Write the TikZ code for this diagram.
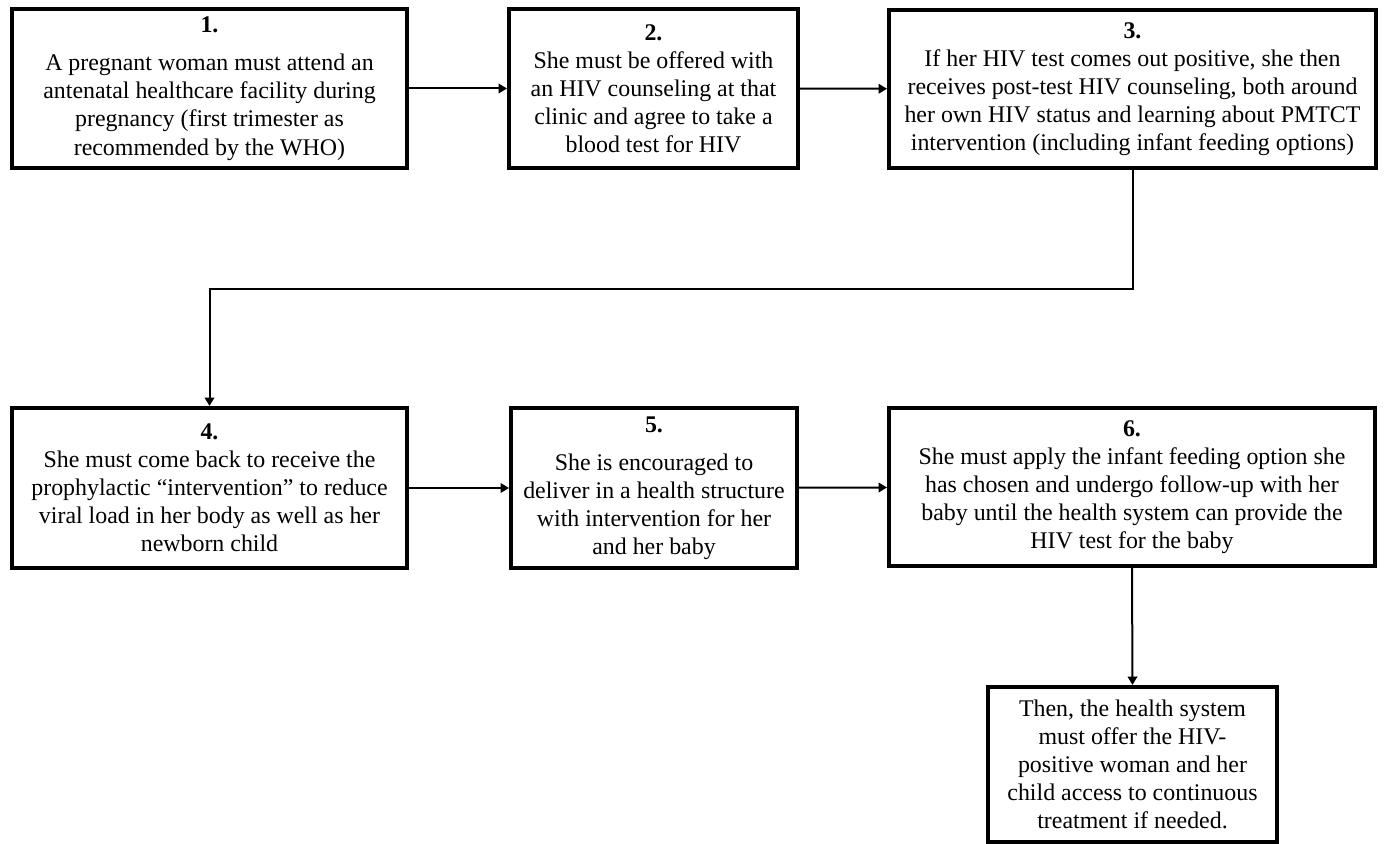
\documentclass[tikz,border=0pt]{standalone}
\usepackage{fontspec}
\setmainfont{Liberation Serif}
\usetikzlibrary{arrows.meta,positioning}

\tikzset{
  stepbox/.style={draw, line width=0.08cm, align=center, inner sep=2pt,
    font=\fontsize{13.6}{16}\selectfont},
  flow/.style={line width=0.04cm, -{Triangle[length=1.7mm,width=1.9mm]}}
}

\begin{document}
\begin{tikzpicture}[x=0.02cm, y=-0.02cm]
                    \useasboundingbox (0,0) rectangle (1384,844);

                    % Upper row of steps
                    \node [stepbox, minimum width=7.9cm, minimum height=3.18cm] (s1) at (209.5,88.5)
                      {\textbf{1.}\\[0.2cm]A pregnant woman must attend an\\antenatal healthcare facility during\\pregnancy (first trimester as\\recommended by the WHO)};%
                    \node [stepbox, minimum width=5.78cm, minimum height=3.18cm] (s2) at (653.5,88.5)
                      {\textbf{2.}\\She must be offered with\\an HIV counseling at that\\clinic and agree to take a\\blood test for HIV};%
                    \node [stepbox, minimum width=9.74cm, minimum height=3.16cm] (s3) at (1132.5,89)
                      {\textbf{3.}\\If her HIV test comes out positive, she then\\receives post-test HIV counseling, both around\\her own HIV status and learning about PMTCT\\intervention (including infant feeding options)};%

                    % Lower row of steps
                    \node [stepbox, minimum width=7.9cm, minimum height=3.2cm] (s4) at (209.5,488)
                      {\textbf{4.}\\She must come back to receive the\\prophylactic “intervention” to reduce\\viral load in her body as well as her\\newborn child};%
                    \node [stepbox, minimum width=5.72cm, minimum height=3.2cm] (s5) at (654,488)
                      {\textbf{5.}\\[0.2cm]She is encouraged to\\deliver in a health structure\\with intervention for her\\and her baby};%
                    \node [stepbox, minimum width=9.72cm, minimum height=3.16cm] (s6) at (1132,487)
                      {\textbf{6.}\\She must apply the infant feeding option she\\has chosen and undergo follow-up with her\\baby until the health system can provide the\\HIV test for the baby};%

                    % Final step
                    \node [stepbox, minimum width=5.78cm, minimum height=3.1cm] (s7) at (1132.5,764.5)
                      {Then, the health system\\must offer the HIV-\\positive woman and her\\child access to continuous\\treatment if needed.};%

                    % Drawing connectors
                    \draw [flow] (s1) -- (s2);%
                    \draw [flow] (s2) -- (s3);%
                    \draw [flow] (s3.south) -- ++(0,119) -| (s4.north);%
                    \draw [flow] (s4) -- (s5);%
                    \draw [flow] (s5) -- (s6);%
                    \draw [flow] (s6.south) -- (s7.north);%
                \end{tikzpicture}
\end{document}
